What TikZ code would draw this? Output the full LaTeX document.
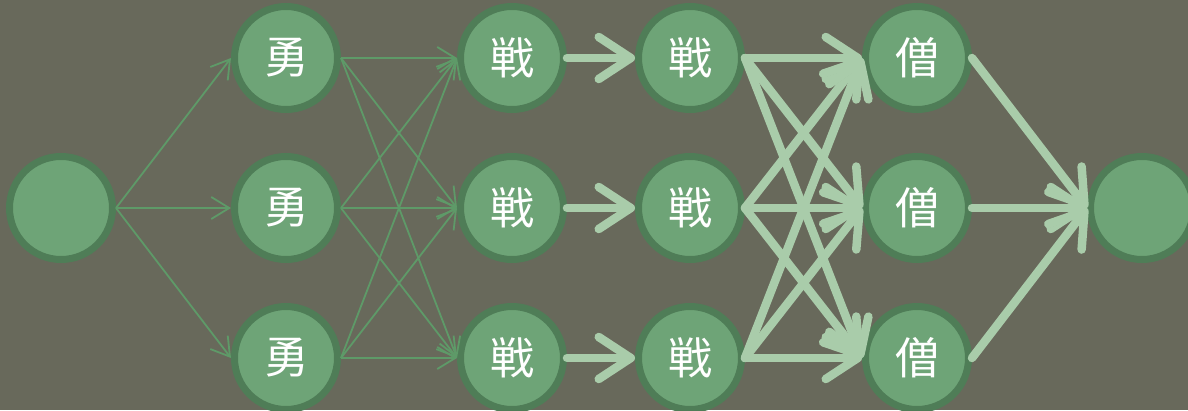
\documentclass[tikz,border=0pt]{standalone}
\usepackage{fontspec}
\newfontfamily\cjk{Noto Sans CJK JP}
\usetikzlibrary{arrows.meta}
\definecolor{bg}{HTML}{68695B}
\definecolor{nodefill}{HTML}{6EA477}
\definecolor{nodeborder}{HTML}{4F7D57}
\definecolor{thinc}{HTML}{5E9A68}
\definecolor{thickc}{HTML}{A9CCAA}
\begin{document}
\begin{tikzpicture}[x=1pt,y=-1pt,
  nn/.style={circle, fill=nodefill, draw=nodeborder, line width=7pt, minimum size=103pt, inner sep=0pt, text=white, font=\cjk\fontsize{44}{44}\selectfont},
  thinarrow/.style={draw=thinc, line width=1.8pt, -{Straight Barb[length=18pt,width=22pt]}},
  thickarrow/.style={draw=thickc, line width=8.5pt, line cap=round, -{Straight Barb[length=32pt,width=42pt,round]},
     preaction={draw=black, draw opacity=0.22, transform canvas={shift={(2pt,-3pt)}}}}]
\fill[bg] (0,0) rectangle (1188,410);
\useasboundingbox (0,0) rectangle (1188,410);
\node[nn] (L) at (61,208) {};
\foreach \i/\y in {1/58,2/208,3/358}{
  \node[nn] (A\i) at (286,\y) {勇};
  \node[nn] (B\i) at (512,\y) {戦};
  \node[nn] (C\i) at (690,\y) {戦};
  \node[nn] (D\i) at (917,\y) {僧};
}
\node[nn] (R) at (1142,208) {};
\foreach \i in {1,2,3}{
  \draw[thinarrow] (L.east) -- (A\i.west);
  \foreach \j in {1,2,3}{
    \draw[thinarrow] (A\i.east) -- (B\j.west);
  }
}
\foreach \i in {1,2,3}{
  \draw[thickarrow] (B\i.east) -- (C\i.west);
}
\foreach \i in {1,2,3}{
  \foreach \j in {1,2,3}{
    \draw[thickarrow] (C\i.east) -- (D\j.west);
  }
}
\foreach \i in {1,2,3}{
  \draw[thickarrow] (D\i.east) -- (R.west);
}
\end{tikzpicture}
\end{document}
